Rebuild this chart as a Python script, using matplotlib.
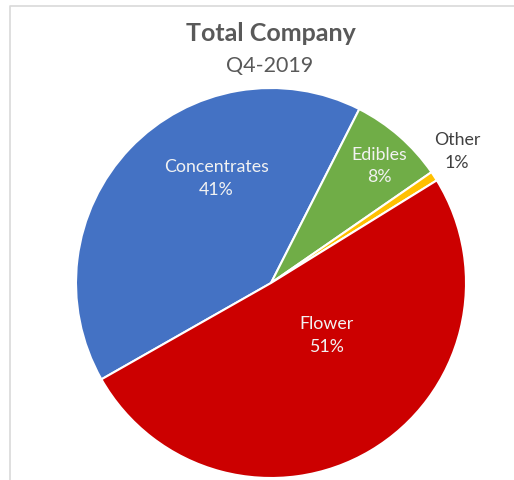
import matplotlib.pyplot as plt
from matplotlib.lines import Line2D

categories = ['Concentrates', 'Edibles', 'Other', 'Flower']
shares = [40.7, 7.9, 0.8, 50.6]
colors = ['#4472C4', '#70AD47', '#FFC000', '#CC0000']
label_colors = ['#F2F2F2', '#F2F2F2', '#404040', '#F2F2F2']
label_pos = [(-0.28, 0.535), (0.555, 0.60), (0.955, 0.675), (0.285, -0.27)]

plt.rcParams['font.family'] = ['Lato', 'DejaVu Sans']

fig = plt.figure(figsize=(5.14, 4.8), dpi=100)
ax = fig.add_axes([76 / 514, 2 / 480, 390 / 514, 390 / 480])
ax.pie(shares, colors=colors, startangle=209.6, counterclock=False,
       radius=1, wedgeprops=dict(edgecolor='white', linewidth=1.5))
ax.set_xlim(-1, 1)
ax.set_ylim(-1, 1)
ax.set_aspect('equal')
ax.axis('off')

for name, v, c, (x, y) in zip(categories, shares, label_colors, label_pos):
    ax.text(x, y, '{}\n{:.0f}%'.format(name, v), color=c, fontsize=12.8,
            ha='center', va='center', linespacing=1.5)

fig.text(271 / 514, 1 - 41 / 480, 'Total Company', fontsize=18,
         fontweight='bold', color='#595959', ha='center', va='baseline')
fig.text(270 / 514, 1 - 72 / 480, 'Q4-2019', fontsize=15.5,
         color='#595959', ha='center', va='baseline')

# light frame around the chart area
fig.add_artist(Line2D([10 / 514, 10 / 514, 1], [0, 1 - 6 / 480, 1 - 6 / 480],
                      transform=fig.transFigure, color='#D9D9D9', lw=1.2))

fig.savefig('out.png', dpi=100)
